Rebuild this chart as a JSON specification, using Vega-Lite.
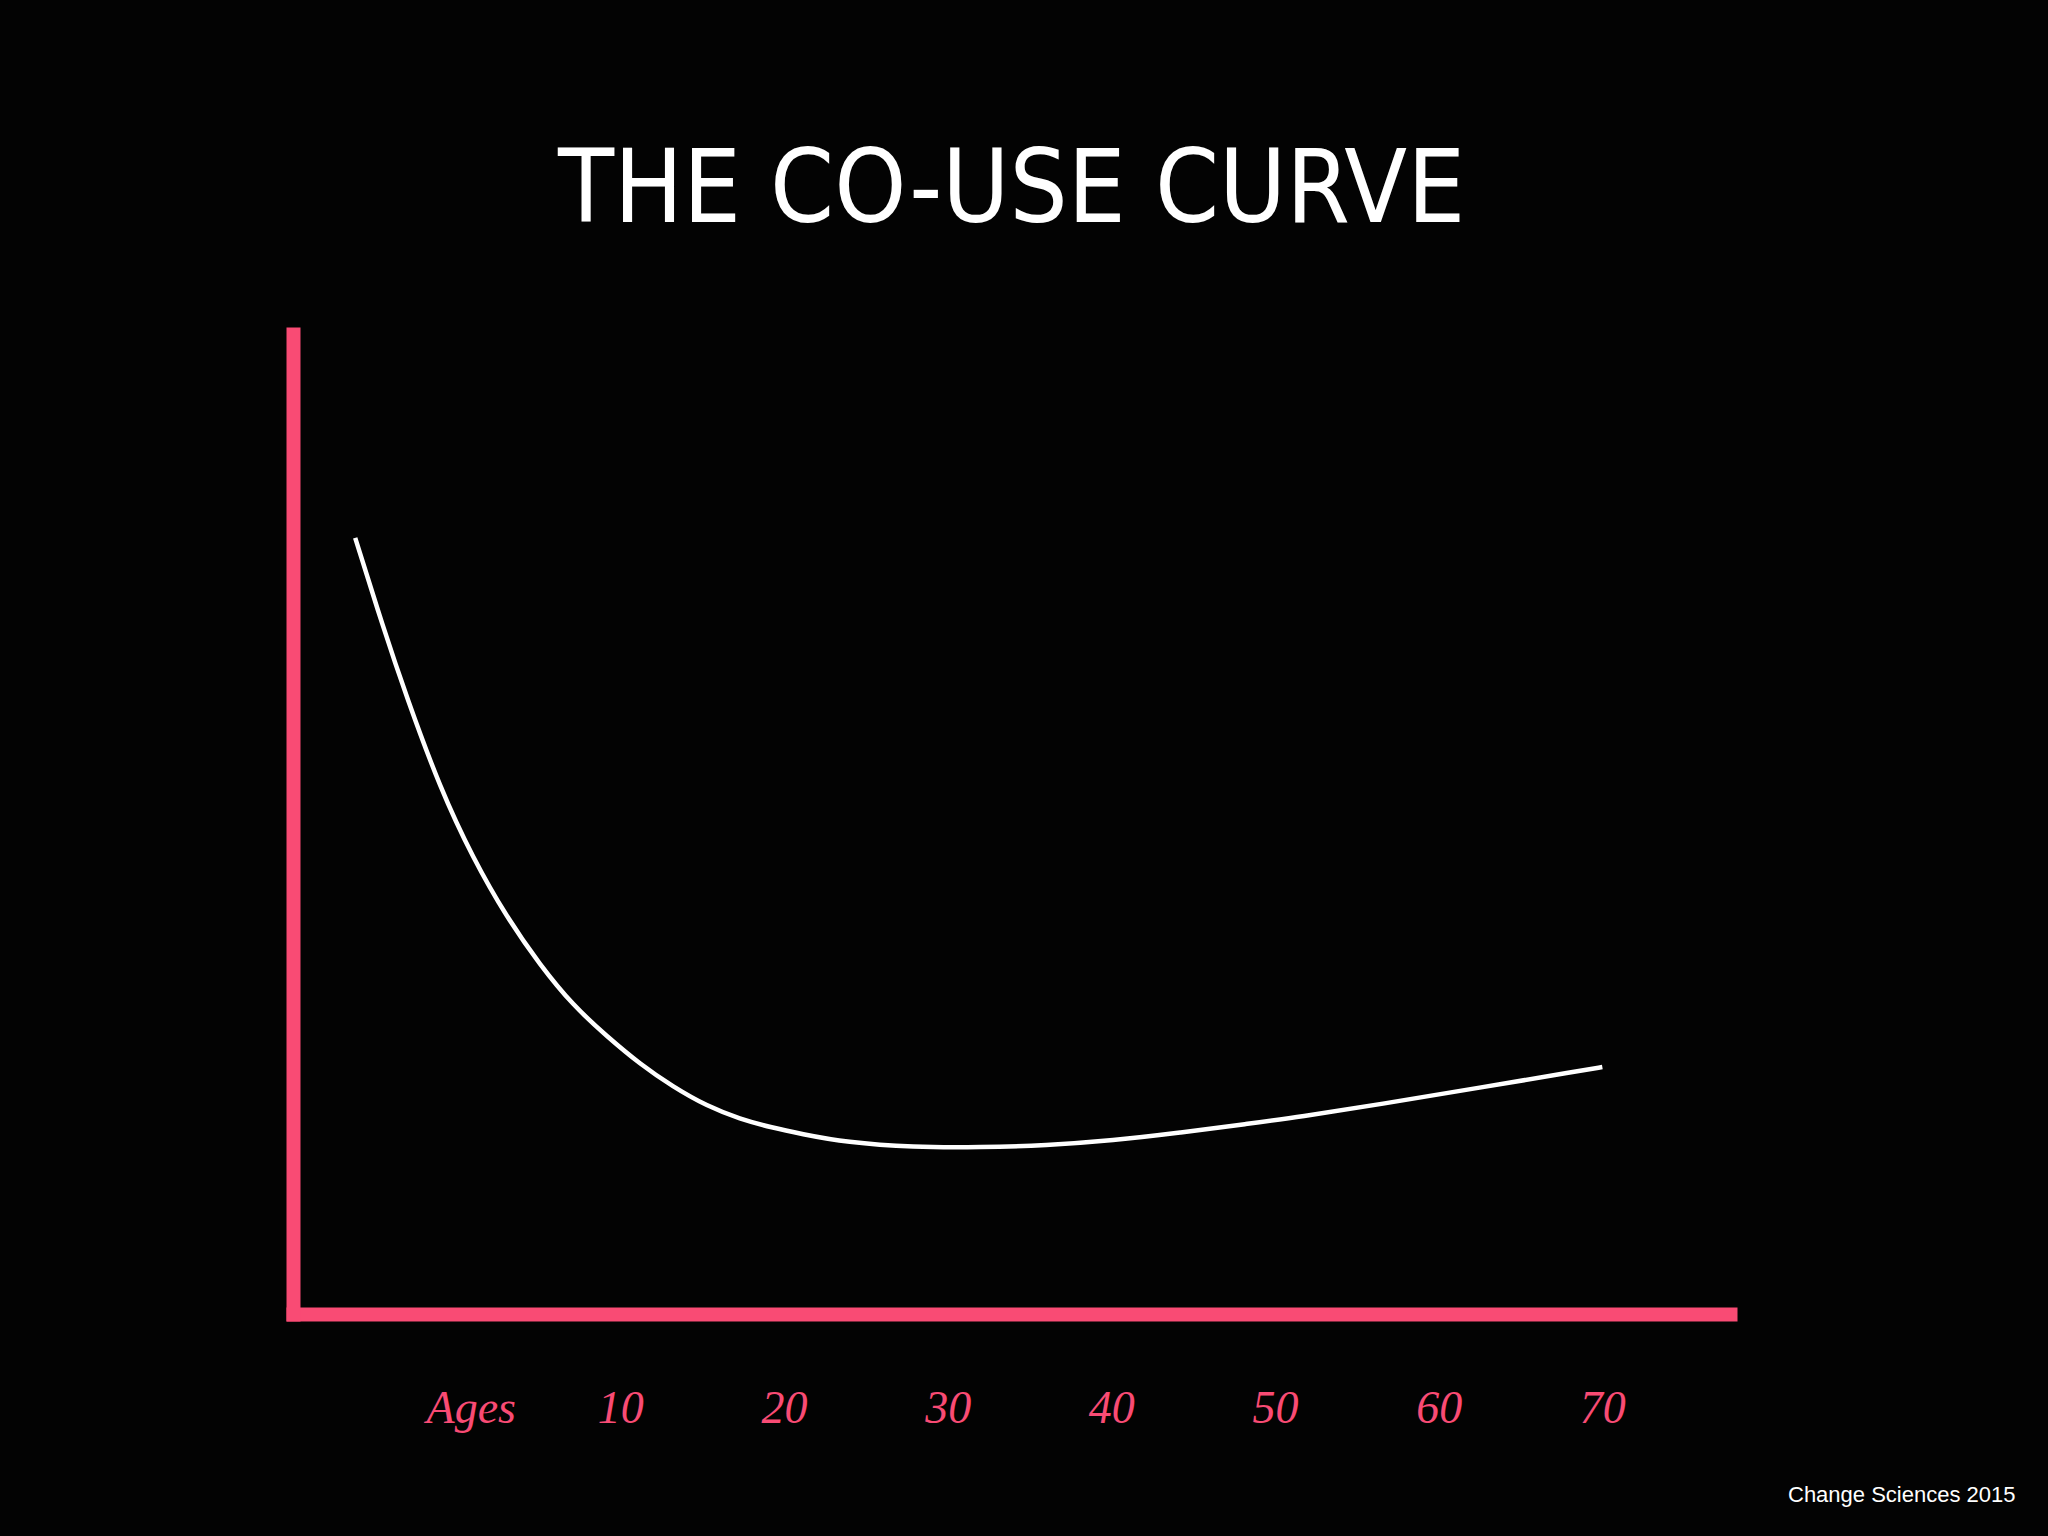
{
  "$schema": "https://vega.github.io/schema/vega-lite/v6.json",
  "autosize": {"type": "none"},
  "padding": {"left": 293, "top": 334, "right": 318, "bottom": 222},
  "width": 1437,
  "height": 980,
  "background": "#030303",
  "title": {
    "text": "THE CO-USE CURVE",
    "font": "DejaVu Sans Condensed",
    "fontSize": 102,
    "fontWeight": "normal",
    "color": "#ffffff",
    "anchor": "middle",
    "baseline": "alphabetic",
    "offset": 10
  },
  "data": {
    "values": [
      {"age": -6.2, "couse": 79.2},
      {"age": -4.5, "couse": 70.1},
      {"age": -3.05, "couse": 62.9},
      {"age": -1.0, "couse": 53.6},
      {"age": 1.0, "couse": 46.5},
      {"age": 3.05, "couse": 40.5},
      {"age": 5.1, "couse": 35.6},
      {"age": 7.1, "couse": 31.5},
      {"age": 9.2, "couse": 28.3},
      {"age": 11.2, "couse": 25.5},
      {"age": 13.2, "couse": 23.2},
      {"age": 15.3, "couse": 21.2},
      {"age": 17.3, "couse": 19.9},
      {"age": 19.3, "couse": 19.0},
      {"age": 21.0, "couse": 18.4},
      {"age": 23.8, "couse": 17.5},
      {"age": 27.9, "couse": 17.0},
      {"age": 32.0, "couse": 17.0},
      {"age": 36.0, "couse": 17.2},
      {"age": 40.1, "couse": 17.7},
      {"age": 44.2, "couse": 18.5},
      {"age": 48.3, "couse": 19.4},
      {"age": 51.5, "couse": 20.1},
      {"age": 56.4, "couse": 21.4},
      {"age": 62.5, "couse": 23.1},
      {"age": 68.6, "couse": 24.8},
      {"age": 70.0, "couse": 25.2}
    ]
  },
  "mark": {"type": "line", "color": "#ffffff", "strokeWidth": 4.5, "interpolate": "basis", "strokeCap": "butt"},
  "encoding": {
    "x": {
      "field": "age",
      "type": "quantitative",
      "scale": {"domain": [-10, 77.8], "nice": false, "zero": false},
      "axis": {
        "values": [0.86, 10, 20, 30, 40, 50, 60, 70],
        "labelExpr": "datum.value < 5 ? 'Ages' : format(datum.value, 'd')",
        "grid": false,
        "ticks": false,
        "tickSize": 0,
        "domainColor": "#F94B74",
        "domainWidth": 14,
        "domainCap": "square",
        "labelColor": "#F94B74",
        "labelFont": "Liberation Serif",
        "labelFontStyle": "italic",
        "labelFontSize": 46,
        "labelBaseline": "middle",
        "labelPadding": 94,
        "labelAlign": "center",
        "title": "Change Sciences 2015",
        "titleFont": "Liberation Sans",
        "titleFontSize": 22,
        "titleFontWeight": "normal",
        "titleColor": "#ffffff",
        "titleAlign": "right",
        "titleAnchor": null,
        "titleBaseline": "alphabetic",
        "titleX": 1722,
        "titleY": 187
      }
    },
    "y": {
      "field": "couse",
      "type": "quantitative",
      "scale": {"domain": [0, 100], "nice": false},
      "axis": {
        "labels": false,
        "ticks": false,
        "grid": false,
        "title": null,
        "domainColor": "#F94B74",
        "domainWidth": 14,
        "domainCap": "square"
      }
    }
  },
  "config": {"view": {"stroke": null}}
}
